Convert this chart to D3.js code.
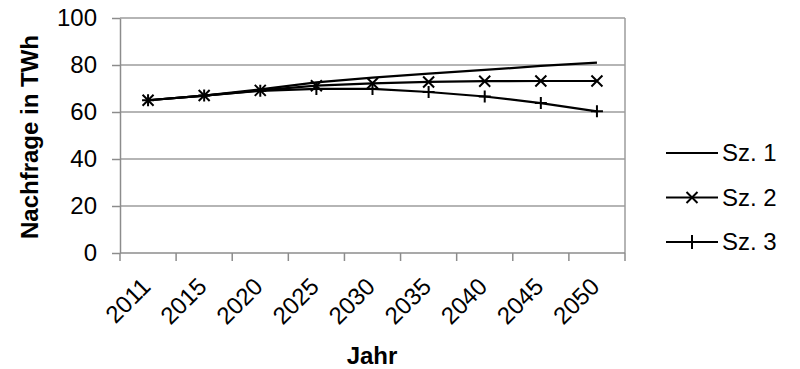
<!doctype html>
<html lang="de">
<head>
<meta charset="UTF-8">
<script src="https://cdn.jsdelivr.net/npm/d3@7"></script>
<style>
  body { margin: 0; background: #fff; }
  text { font-family: "Liberation Sans", Arial, sans-serif; fill: #000; }
  .grid line { stroke: #9c9c9c; stroke-width: 1.3; }
  .axis path, .axis line { stroke: #8c8c8c; stroke-width: 1.5; fill: none; }
  .axis text { font-size: 24px; }
  .serie { fill: none; stroke: #000; stroke-width: 2.2; }
  .mark { stroke: #000; stroke-width: 2; fill: none; }
</style>
</head>
<body>
<svg id="chart" width="800" height="369"></svg>
<script>
// Daten
const jahre = ["2011", "2015", "2020", "2025", "2030", "2035", "2040", "2045", "2050"];
const sz1 = [65, 67, 69.6, 72.6, 74.6, 76.3, 77.9, 79.6, 81.0];
const sz2 = [65, 67, 69.2, 71.2, 72.2, 72.8, 73.1, 73.2, 73.2];
const sz3 = [65, 67, 69.0, 69.8, 69.8, 68.5, 66.6, 63.8, 60.3];
const yTicks = [0, 20, 40, 60, 80, 100];
const namen = ["Sz. 1", "Sz. 2", "Sz. 3"];

const svg = d3.select("#chart");
const pLeft = 120, pRight = 625, pTop = 18, pBottom = 253;

let x = d3.scaleBand().domain(jahre).range([pLeft, pRight]);
let y = d3.scaleLinear().domain([0, 100]).range([pBottom, pTop]);

// gridlines
svg.append("g").attr("class", "grid")
  .selectAll("line").data(yTicks.slice(1)).enter().append("line")
  .attr("x1", pLeft).attr("x2", pRight)
  .attr("y1", d => y(d)).attr("y2", d => y(d));

// right border
svg.append("line")
  .attr("x1", pRight).attr("x2", pRight).attr("y1", pTop).attr("y2", pBottom)
  .attr("stroke", "#9c9c9c").attr("stroke-width", 1.5);

// y axis
let yAxis = d3.axisLeft(y).tickValues(yTicks).tickSize(8).tickSizeOuter(0).tickPadding(15);
svg.append("g").attr("class", "axis")
  .attr("transform", "translate(" + pLeft + ",0)")
  .call(yAxis);

// x axis, ticks between categories
let xg = svg.append("g").attr("class", "axis").attr("transform", "translate(0," + pBottom + ")");
xg.append("line").attr("x1", pLeft).attr("x2", pRight).attr("y1", 0).attr("y2", 0);
let grenzen = jahre.map(d => x(d)).concat([pRight]);
xg.selectAll(".tk").data(grenzen).enter().append("line")
  .attr("x1", d => d).attr("x2", d => d).attr("y1", 0).attr("y2", 8);
xg.selectAll(".lbl").data(jahre).enter().append("text")
  .attr("text-anchor", "end")
  .attr("transform", d => "translate(" + (x(d) + x.bandwidth() / 2 + 4) + ",35) rotate(-45)")
  .text(d => d);

// axis titles
svg.append("text")
  .attr("transform", "translate(38,137) rotate(-90)")
  .attr("text-anchor", "middle")
  .style("font-size", "24px").style("font-weight", "bold")
  .text("Nachfrage in TWh");
svg.append("text")
  .attr("x", 372).attr("y", 364)
  .attr("text-anchor", "middle")
  .style("font-size", "24px").style("font-weight", "bold")
  .text("Jahr");

// lines
let line = d3.line()
  .x((d, i) => x(jahre[i]) + x.bandwidth() / 2)
  .y(d => y(d));
[sz1, sz2, sz3].forEach(s => {
  svg.append("path").attr("class", "serie").attr("d", line(s));
});

// markers
function kreuz(g, cx, cy, r) {
  g.append("path").attr("class", "mark")
    .attr("d", "M" + (cx - r) + "," + (cy - r) + "L" + (cx + r) + "," + (cy + r) +
               "M" + (cx - r) + "," + (cy + r) + "L" + (cx + r) + "," + (cy - r));
}
function plus(g, cx, cy, r) {
  g.append("path").attr("class", "mark")
    .attr("d", "M" + (cx - r) + "," + cy + "L" + (cx + r) + "," + cy +
               "M" + cx + "," + (cy - r) + "L" + cx + "," + (cy + r));
}
let mk = svg.append("g");
sz2.forEach((v, i) => kreuz(mk, x(jahre[i]) + x.bandwidth() / 2, y(v), 5.5));
sz3.forEach((v, i) => plus(mk, x(jahre[i]) + x.bandwidth() / 2, y(v), 6));

// legend
let leg = svg.append("g");
namen.forEach((n, i) => {
  let ly = 153 + i * 44.5;
  leg.append("line").attr("class", "serie")
    .attr("x1", 666).attr("x2", 718).attr("y1", ly).attr("y2", ly);
  if (i === 1) kreuz(leg, 692, ly, 5.5);
  if (i === 2) plus(leg, 692, ly, 7);
  leg.append("text").attr("x", 722).attr("y", ly + 8)
    .style("font-size", "24px").text(n);
});
</script>
</body>
</html>
